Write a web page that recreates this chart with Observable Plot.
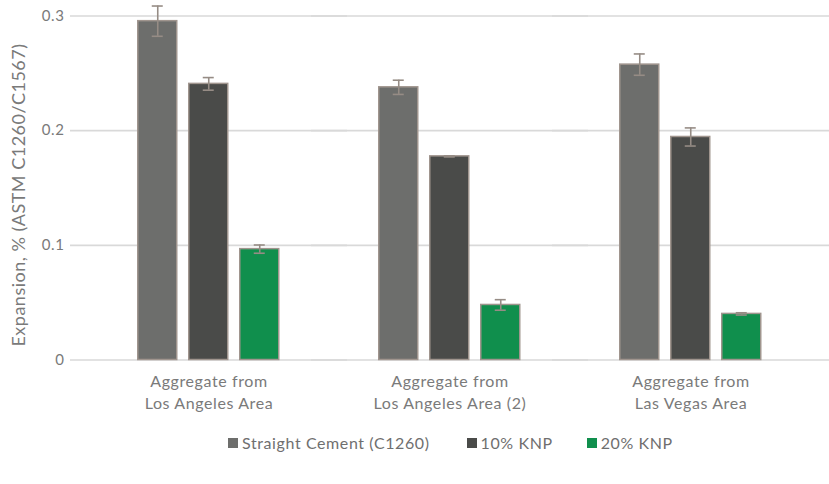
<!DOCTYPE html>
<html>
<head>
<meta charset="utf-8">
<script src="https://cdn.jsdelivr.net/npm/d3@7"></script>
<script src="https://cdn.jsdelivr.net/npm/@observablehq/plot@0.6"></script>
<style>
  html, body { margin: 0; padding: 0; background: #fff; }
  #wrap { position: relative; width: 829px; height: 484px; font-family: Lato, "Open Sans", sans-serif; color: #7a7a7a; }
  #ytitle { position: absolute; left: 18px; top: 195px; transform: translate(-50%, -50%) rotate(-90deg); white-space: nowrap; font-size: 18px; letter-spacing: 0.5px; color: #7a7a7a; }
  #legend { position: absolute; left: 228px; top: 433px; display: flex; font-size: 16px; letter-spacing: 0.6px; color: #6f6f6f; }
  #legend .item { display: flex; align-items: center; gap: 4px; margin-right: 37px; }
  #legend .item:nth-child(2) { margin-right: 34px; }
  #legend .sw { width: 10px; height: 10px; display: inline-block; }
</style>
</head>
<body>
<div id="wrap">
  <div id="chart"></div>
  <div id="ytitle">Expansion, % (ASTM C1260/C1567)</div>
  <div id="legend"></div>
</div>
<script>
// ---- data ----
const groups = ["Aggregate from\nLos Angeles Area", "Aggregate from\nLos Angeles Area (2)", "Aggregate from\nLas Vegas Area"];
const series = ["Straight Cement (C1260)", "10% KNP", "20% KNP"];
const straightCement = [0.2955, 0.2378, 0.2576];
const straightCementErr = [0.0132, 0.0062, 0.0093];
const knp10 = [0.2408, 0.1776, 0.1945];
const knp10Err = [0.0055, 0.0005, 0.0079];
const knp20 = [0.0967, 0.0480, 0.0402];
const knp20Err = [0.0036, 0.0046, 0.0010];
const yTicks = [0, 0.1, 0.2, 0.3];
const colors = ["#6d6e6c", "#4a4b49", "#108f4d"];

const values = [straightCement, knp10, knp20];
const errs = [straightCementErr, knp10Err, knp20Err];
const rows = [];
groups.forEach((g, gi) => series.forEach((s, si) => rows.push({group: g, series: s, value: values[si][gi], err: errs[si][gi]})));

const edge = "#a0958e";
const errColor = "#968c85";

const chart = Plot.plot({
  width: 829,
  height: 430,
  marginLeft: 87.25,
  marginRight: 18.25,
  marginTop: 15.5,
  marginBottom: 70.5,
  style: {fontFamily: "Lato, 'Open Sans', sans-serif", color: "#7a7a7a", background: "transparent", letterSpacing: "0.6px"},
  fx: {domain: groups, paddingInner: 0, paddingOuter: 0, label: null},
  x: {domain: series, paddingInner: 0.23, paddingOuter: 0.935, axis: null},
  y: {domain: [0, 0.3], axis: null},
  color: {domain: series, range: colors},
  marks: [
    Plot.ruleY(yTicks, {stroke: "#d9d9d9", strokeWidth: 1.6, insetLeft: -18, insetRight: -18}),
    Plot.barY(rows, {fx: "group", x: "series", y: "value", fill: "series", stroke: edge, strokeWidth: 1.5}),
    Plot.ruleX(rows, {fx: "group", x: "series", y1: d => d.value - d.err, y2: d => d.value + d.err, stroke: errColor, strokeWidth: 1.6}),
    Plot.tickY(rows, {fx: "group", x: "series", y: d => d.value + d.err, stroke: errColor, strokeWidth: 1.6, insetLeft: 14, insetRight: 14}),
    Plot.tickY(rows, {fx: "group", x: "series", y: d => d.value - d.err, stroke: errColor, strokeWidth: 1.6, insetLeft: 14, insetRight: 14}),
    Plot.axisY({ticks: yTicks, tickSize: 0, tickPadding: 24, label: null, fontSize: 15,
      tickFormat: d => d === 0 ? "0" : d.toFixed(1)}),
    Plot.axisFx({anchor: "bottom", tickSize: 0, tickPadding: 12, label: null, fontSize: 16, lineHeight: 1.36})
  ]
});
document.getElementById("chart").appendChild(chart);

const legend = document.getElementById("legend");
series.forEach((s, i) => {
  const item = document.createElement("div");
  item.className = "item";
  const sw = document.createElement("span");
  sw.className = "sw";
  sw.style.background = colors[i];
  const t = document.createElement("span");
  t.textContent = s;
  item.appendChild(sw); item.appendChild(t);
  legend.appendChild(item);
});
</script>
</body>
</html>
